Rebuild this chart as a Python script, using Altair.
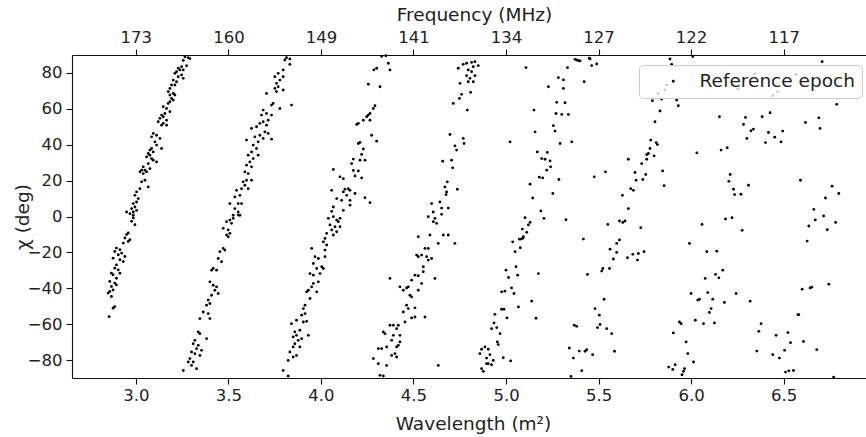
import altair as alt
import pandas as pd

# (wavelength^2 [m^2], chi [deg]), band by band
band1 = [(3.265,89),(3.283,88.5),(3.292,88),(3.256,87),(3.274,84),(3.247,83.5),(3.229,82.6),(3.238,81.7),(3.22,80.7),(3.256,81.7),
         (3.211,79.8),(3.247,78.9),(3.229,77.9),(3.256,77),(3.202,76),(3.22,75.1),(3.211,73.3),(3.193,73.3),(3.184,71.4),(3.175,69.6),
         (3.202,68.6),(3.184,67.7),(3.211,67.7),(3.193,65.8),(3.202,64.9),(3.184,64),(3.175,63),(3.148,61.2),(3.166,60.2),(3.184,58.4),
         (3.157,57.4),(3.139,56.5),(3.148,55.6),(3.13,54.7),(3.166,53.7),(3.121,52.8),(3.148,51.9),(3.139,50.9),(3.166,50.9),(3.094,46.3),
         (3.112,45.3),(3.085,44.4),(3.13,43.5),(3.103,41.6),(3.112,39.8),(3.139,37.9),(3.085,37.9),(3.076,37),(3.094,36),(3.067,35.1),
         (3.076,34.2),(3.058,33.2),(3.085,32.3),(3.094,31.4),(3.112,30.4),(3.067,29.5),(3.04,27.7),(3.031,25.8),(3.049,25.8),(3.022,24.9),
         (3.04,23.9),(3.058,24.9),(3.076,26.7),(3.049,20.2),(3.031,19.3),(3.067,16.5),(3.022,15.5),(3.004,13.7),(2.995,11.8),(3.013,10),
         (3.004,8.1),(2.986,7.2),(2.995,5.3),(2.977,4.4),(3.004,3.4),(2.986,2.5),(2.968,1.6),(2.986,0.7),(2.95,2.5),
         (2.986,-0.8),(2.977,-2.7),(2.995,-4.6),(2.959,-9.2),(2.95,-10.1),(2.941,-12),(2.968,-12.9),(2.932,-14.8),(2.959,-13.9),(2.895,-17.6),
         (2.914,-18.5),(2.886,-19.5),(2.923,-20.4),(2.905,-21.3),(2.941,-22.3),(2.877,-23.2),(2.914,-24.1),(2.932,-25.1),(2.895,-27),(2.886,-28.8),
         (2.905,-29.7),(2.868,-31.6),(2.914,-31.6),(2.877,-32.5),(2.895,-34.4),(2.859,-36.2),(2.886,-37.1),(2.868,-39),(2.895,-38.1),(2.859,-41.8),
         (2.877,-40.9),(2.868,-44.6),(2.85,-42.7),(2.886,-50.2),(2.877,-51.1),(2.856,-55.8)]

band2 = [(3.814,88.5),(3.832,87.8),(3.805,87.2),(3.832,84.8),(3.796,81.7),(3.769,79.8),(3.751,77.9),(3.796,77.9),(3.778,76),(3.76,74.2),
         (3.769,72.3),(3.751,71.4),(3.76,69.6),(3.796,70.5),(3.706,68.6),(3.742,63),(3.733,62.1),(3.841,62.1),(3.778,60.2),(3.688,59.3),
         (3.706,57.4),(3.679,56.5),(3.733,56.5),(3.715,53.7),(3.688,52.8),(3.67,51.9),(3.706,50.9),(3.625,49.1),(3.652,50),(3.697,47.2),
         (3.715,46.3),(3.67,45.3),(3.643,44.4),(3.598,42.6),(3.688,43.5),(3.733,43.1),(3.661,41.6),(3.634,39.8),(3.652,37.9),(3.625,36),
         (3.607,34.2),(3.661,34.2),(3.634,32.3),(3.616,30.4),(3.598,28.6),(3.625,27.7),(3.589,24.9),(3.607,23.9),(3.598,20.2),(3.58,19.3),
         (3.625,20.2),(3.589,17.4),(3.571,15.5),(3.544,14.6),(3.607,15.5),(3.562,11.8),(3.535,10.9),(3.553,7.2),(3.571,7.2),(3.508,7.2),
         (3.535,4.4),(3.553,2.5),(3.526,0.7),(3.562,0.7),
         (3.553,0.8),(3.526,-1),(3.508,-2),(3.49,-2.9),(3.517,-3.8),(3.472,-6.6),(3.499,-7.5),(3.508,-9.4),(3.49,-10.3),(3.499,-11.3),
         (3.472,-17.8),(3.481,-18.7),(3.454,-19.6),(3.445,-23.4),(3.463,-25.2),(3.418,-29),(3.436,-29.9),(3.409,-29.9),(3.4,-36.4),(3.418,-38.3),
         (3.436,-39.2),(3.427,-41.1),(3.445,-42.9),(3.409,-43.9),(3.391,-46.6),(3.4,-48.5),(3.382,-49.4),(3.364,-53.2),(3.391,-54.1),(3.346,-56.9),
         (3.4,-56.9),(3.337,-64.3),(3.346,-65.3),(3.382,-68.1),(3.319,-69),(3.31,-70.9),(3.337,-71.8),(3.328,-73.7),(3.355,-74.6),(3.301,-75.5),
         (3.319,-76.5),(3.346,-77.4),(3.292,-79.2),(3.283,-81.1),(3.31,-81.1),(3.301,-83),(3.256,-85.8),(3.328,-84.8)]

band3 = [(4.328,89.3),(4.351,89.6),(4.364,85.4),(4.301,82.6),(4.286,81.7),(4.373,81.7),(4.256,73.7),(4.319,72.3),(4.292,61.7),(4.283,60.2),
         (4.265,57.4),(4.256,56.5),(4.247,55.6),(4.229,53.7),(4.265,53.7),(4.202,51.9),(4.193,51.3),(4.274,45.3),(4.301,42),(4.211,41.3),
         (4.202,40.7),(4.229,37.6),(4.22,34.6),(4.175,32),(4.166,29.5),(4.211,31.4),(4.238,31.4),(4.067,26.2),(4.175,25.7),(4.202,25.4),
         (4.184,22.6),(4.103,22.1),(4.121,21.1),(4.22,21.5),(4.148,15.5),(4.13,15.2),(4.058,14.6),(4.121,13.7),(4.157,14.6),(4.184,12.8),
         (4.139,11.8),(4.085,10),(4.157,9),(4.112,9),(4.238,10.5),(4.265,7.7),(4.067,5.3),(4.121,3.4),(4.058,2.9),(4.157,6.3),
         (4.04,-1),(4.067,-0.1),(4.085,-2),(4.103,-1),(4.094,-2.9),(4.049,-4.7),(4.076,-5.7),(4.103,-5.7),(4.058,-7.5),(4.085,-8.5),
         (4.031,-9.4),(4.067,-10.3),(4.022,-12.2),(4.013,-14.1),(4.031,-15.9),(4.022,-18.7),(4.022,-22.4),(4.004,-28),(4.013,-29),(3.995,-31.8),
         (3.95,-17.8),(3.968,-22.4),(3.986,-23.4),(3.959,-26.2),(3.977,-29),(3.941,-31.8),(3.959,-32.7),(3.986,-36.4),(3.959,-37.3),(3.95,-39.2),
         (3.932,-41.1),(3.923,-42),(3.977,-42),(3.941,-45.7),(3.914,-49.4),(3.905,-51.3),(3.914,-54.1),(3.896,-55),(3.868,-57.8),(3.905,-58.8),
         (3.841,-59.7),(3.923,-58.4),(3.859,-64.3),(3.886,-63.4),(3.868,-66.2),(3.85,-67.1),(3.896,-68.1),(3.877,-69),(3.932,-66.2),(3.859,-70.9),
         (3.85,-72.7),(3.886,-72.7),(3.832,-75.5),(3.85,-78.3),(3.868,-77.4),(3.823,-80.2),(3.796,-85.8),(3.823,-88.9)]

band4 = [(4.742,82.6),(4.769,84.8),(4.787,85.4),(4.814,85.9),(4.832,86.3),(4.823,83.5),(4.85,84.1),(4.796,81.7),(4.814,80.7),(4.787,78.5),
         (4.832,78.5),(4.805,77),(4.823,75.1),(4.751,74.2),(4.796,75.1),(4.76,68.1),(4.748,65.8),(4.715,63),(4.809,69.2),(4.791,59.3),
         (4.697,45.7),(4.769,43.5),(4.773,40.7),(4.724,39.4),(4.733,37),(4.706,31.4),(4.658,30.8),(4.712,27.1),(4.683,19.3),(4.67,16.5),
         (4.737,15.2),(4.679,13.7),(4.676,12.2),(4.643,8.1),(4.598,7.2),(4.652,4.7),(4.688,4.7),(4.607,2.5),(4.652,1.2),
         (4.58,-0.1),(4.607,-2.9),(4.625,-3.8),(4.616,-1),(4.526,-11.3),(4.589,-10.3),(4.661,-10.3),(4.688,-10.3),(4.724,-15),(4.634,-15),
         (4.562,-17.8),(4.58,-17.8),(4.544,-21.5),(4.571,-22.4),(4.517,-21.5),(4.526,-22.4),(4.58,-24.3),(4.598,-23.4),(4.553,-28),(4.553,-30.8),
         (4.508,-32.7),(4.526,-33),(4.616,-34.5),(4.544,-37.3),(4.49,-35.5),(4.373,-34.5),(4.427,-39.2),(4.445,-41.1),(4.463,-39.8),(4.472,-39.2),
         (4.481,-43.9),(4.49,-44.8),(4.526,-41.1),(4.463,-49.4),(4.472,-51.3),(4.508,-50.9),(4.445,-53.2),(4.454,-58.8),(4.49,-56.5),(4.508,-56),
         (4.562,-56),(4.373,-60.6),(4.391,-60.6),(4.409,-62.5),(4.418,-60.6),(4.337,-64.3),(4.346,-65.3),(4.391,-66.2),(4.427,-66.2),(4.382,-69),
         (4.427,-69.9),(4.418,-71.8),(4.409,-72.7),(4.328,-73.6),(4.31,-73.6),(4.355,-72.7),(4.4,-76.4),(4.382,-77.4),(4.409,-78.3),(4.283,-79.2),
         (4.31,-82),(4.355,-83),(4.319,-88.5),(4.337,-88.9),(4.634,-83)]

band5 = [(5.108,83),(5.332,83),(5.283,77.4),(5.31,76.1),(5.229,72.3),(5.31,71.4),(5.422,75.1),(5.274,63.6),(5.319,63.4),(5.151,59.3),
         (5.27,57.4),(5.301,56.9),(5.337,56.9),(5.256,50.6),(5.265,47.6),(5.157,47.2),(5.022,41.6),(5.292,40.7),(5.355,41.6),(5.169,36),
         (5.223,35.7),(5.193,32.3),(5.211,31.9),(5.238,31),(5.241,27.7),(5.22,25.8),(5.18,21.9),(5.198,21.5),(5.286,20.6),(5.13,18),
         (5.253,12.8),(5.144,10.3),(5.188,3.1),(5.373,87.6),(5.382,87.2),(5.391,86.9),(5.4,86.7),(5.45,88.2),(5.454,87.8),(5.463,84.1),
         (5.49,85),(5.477,22.1),(5.537,24.9),
         (5.103,-0.7),(5.205,-1),(5.324,-1.8),(5.13,-3.3),(5.121,-4.7),(5.088,-7),(5.112,-8.8),(5.072,-12.6),(5.09,-12.2),(5.079,-12.6),
         (5.036,-14.1),(5.094,-11.3),(5.077,-17.4),(5.049,-19.6),(5.0,-29.9),(5.054,-28),(5.014,-34),(5.063,-32.7),(5.175,-31.8),(5.03,-39.8),
         (5.043,-42.9),(4.976,-42),(4.994,-41.6),(5.139,-47.2),(5.067,-50.4),(4.976,-51.7),(4.989,-51.7),(4.94,-54.5),(5.005,-56.5),(5.162,-56.7),
         (4.935,-59.3),(4.95,-61.9),(4.922,-62.5),(4.968,-65.3),(4.953,-69.9),(4.958,-71.4),(4.886,-72.7),(4.904,-74),(4.868,-74),(4.913,-77),
         (4.859,-76.4),(4.985,-78.7),(4.895,-78.9),(4.931,-80.2),(5.025,-80.5),(4.895,-82),(4.922,-82.6),(4.904,-82),(4.868,-84.8),(4.877,-86.3)]

band6 = [(5.661,31.9),(5.733,29.5),(5.76,31.9),(5.769,35.1),(5.76,34.5),(5.778,37.9),(5.782,42.6),(5.811,41.2),(5.818,40.1),(5.8,33.8),
         (5.697,24.5),(5.755,23.4),(5.703,20.2),(5.739,20.6),(5.674,15.5),(5.688,14.6),(5.629,11.8),(5.661,4.4),(5.805,52.8),(5.832,58.8),
         (5.791,64.5),(5.841,65.5),(5.922,64.9),(5.931,61.7),(5.846,25.4),(5.854,17.2),(5.886,87.8),(5.895,84.8),(5.868,73.3),(5.859,70.5),
         (5.823,68.6),
         (5.418,-12.6),(5.44,-32.3),(5.55,-4.4),(5.613,-2.5),(5.631,-3.3),(5.643,-2.5),(5.728,-6.2),(5.598,-15),(5.613,-13.1),(5.562,-18.2),
         (5.598,-20),(5.58,-23.7),(5.656,-23),(5.685,-21.1),(5.715,-20.6),(5.746,-19.6),(5.71,-24.3),(5.523,-29),(5.517,-30.4),(5.559,-29),
         (5.53,-46.1),(5.481,-51.3),(5.504,-55),(5.508,-60.2),(5.494,-61.9),(5.544,-62.5),(5.571,-65.3),(5.342,-73.3),(5.396,-75),(5.427,-75.1),
         (5.436,-74.2),(5.468,-77),(5.364,-78.9),(5.586,-75.1),(5.409,-85.9),(5.369,-60.6),(5.382,-61.2),(5.351,-89.1)]

band7 = [(6.009,89.1),(6.708,86.3),(6.153,55.6),(6.294,55.2),(6.384,55.6),(6.427,57.8),(6.283,51.3),(6.324,47.8),(6.337,48.7),(6.301,43.5),
         (6.418,46.8),(6.452,44.2),(6.495,47.6),(6.402,41.2),(6.486,41.6),(6.618,52.4),(6.69,55),(6.697,49.1),(6.787,62.5),(6.031,35.5),
         (6.162,37),(6.195,38.3),(6.211,23.4),(6.204,19.6),(6.229,15.2),(6.235,12.2),(6.269,12.4),(6.31,17.4),(6.591,20.2),(6.762,16.9),
         (6.798,12.8),(6.726,10.3),(6.663,4),(6.252,71),(6.346,79.6),(6.468,69.6),(6.568,79.2),(6.441,67.3),
         (6.059,-4.4),(6.186,-1.4),(6.221,-0.7),(6.276,-7.7),(5.991,-15),(6.085,-19.6),(6.139,-19.3),(6.171,-29.9),(6.132,-32.3),(6.15,-34.2),
         (6.076,-34.5),(6.0,-42.9),(6.09,-42.4),(6.036,-46.6),(6.045,-46.1),(6.117,-46.1),(6.18,-47.9),(6.243,-42.9),(6.319,-47.2),(6.108,-51.3),
         (6.099,-53.5),(5.937,-58.8),(5.946,-59.7),(6.023,-57.8),(6.067,-59.7),(6.126,-59.3),(5.904,-64.9),(5.973,-69.9),(5.982,-76.4),(6.013,-81.1),
         (5.879,-83.9),(5.901,-85.2),(5.914,-82.6),(5.964,-84.8),(5.959,-86.3),(5.951,-88.2),(6.378,-59.7),(6.366,-64),(6.459,-66.2),(6.523,-64.7),
         (6.537,-70.3),(6.505,-74.6),(6.355,-75),(6.441,-77),(6.477,-78.9),(6.607,-69.6),(6.679,-74.2),(6.577,-54.7),(6.582,-54.7),(6.6,-40.5),
         (6.643,-39.8),(6.652,-39.4),(6.744,-37.7),(6.627,-13.7),(6.636,-5.3),(6.671,-1.9),(6.716,0.3),(6.736,-7.4),(6.781,-3.3),(6.51,-86.7),
         (6.528,-86),(6.553,-85.8),(6.77,-89.5)]

series_name = "Reference epoch"
wl_ticks = [3.0, 3.5, 4.0, 4.5, 5.0, 5.5, 6.0, 6.5]
freq_labels = ["173", "160", "149", "141", "134", "127", "122", "117"]
chi_ticks = [-80, -60, -40, -20, 0, 20, 40, 60, 80]

rows = []
for band in (band1, band2, band3, band4, band5, band6, band7):
    for l2, chi in band:
        rows.append({"l2": l2, "chi": chi, "series": series_name})
df = pd.DataFrame(rows)

FONT = "DejaVu Sans"
TXT = "#222222"
xscale = alt.Scale(domain=[2.655, 6.945], nice=False, zero=False)
yscale = alt.Scale(domain=[-90, 90], nice=False, zero=False)

freq_expr = "[" + ",".join("'%s'" % s for s in freq_labels) + "][round(datum.value*2)-6]"

bottom_axis = alt.Axis(values=wl_ticks, format=".1f", orient="bottom", title="Wavelength (m²)",
                       titleX=401, titleY=45, titleAlign="center", titleBaseline="middle", labelPadding=3)
top_axis = alt.Axis(values=wl_ticks, labelExpr=freq_expr, orient="top", title="Frequency (MHz)",
                    titleX=402, titleY=-41, titleAlign="center", titleBaseline="middle", labelPadding=4)
y_axis = alt.Axis(values=chi_ticks, title="χ (deg)", titleX=-50, titleY=161.5, titleAngle=-90,
                  titleAlign="center", titleBaseline="middle", labelPadding=4)

points = alt.Chart(df).mark_circle(size=8, opacity=1).encode(
    x=alt.X("l2:Q", scale=xscale, axis=bottom_axis),
    y=alt.Y("chi:Q", scale=yscale, axis=y_axis),
    color=alt.Color("series:N", scale=alt.Scale(range=["black"]),
                    legend=alt.Legend(title=None, orient="none", legendX=567, legendY=10, padding=7,
                                      fillColor="rgba(255,255,255,0.8)", strokeColor="#cccccc",
                                      cornerRadius=4, labelFont=FONT, labelFontSize=18.5, labelColor=TXT,
                                      labelLimit=300, symbolSize=8, symbolType="circle", symbolOffset=18,
                                      labelOffset=17, symbolStrokeWidth=0)),
)

top = alt.Chart(df).mark_circle(opacity=0).encode(
    x=alt.X("l2:Q", scale=xscale, axis=top_axis),
    y=alt.Y("chi:Q", scale=yscale, axis=None),
)

chart = alt.layer(points, top).resolve_axis(x="independent", y="independent").properties(
    width=794, height=323,
    padding={"left": 72, "top": 55, "right": 0, "bottom": 59},
    autosize=alt.AutoSizeParams(type="none"),
).configure_view(stroke=None).configure_axis(
    grid=False, domainColor="#111111", domainWidth=1.1, tickColor="#111111", tickWidth=1.1, tickSize=6,
    labelFont=FONT, labelFontSize=16.5, labelColor=TXT,
    titleFont=FONT, titleFontSize=18.5, titleFontWeight="normal", titleColor=TXT,
)

chart.save("out.html", embed_options={"renderer": "svg", "actions": False})
